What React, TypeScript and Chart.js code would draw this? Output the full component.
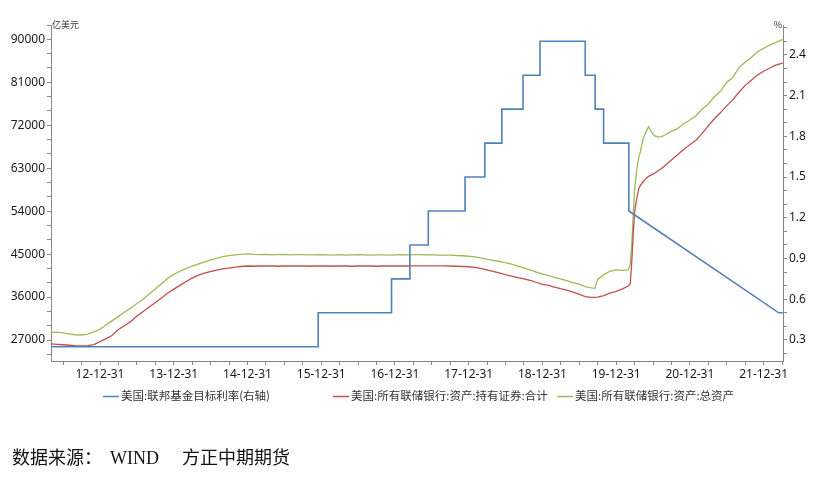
import React, { useEffect, useRef } from 'react';
import { Chart, registerables } from 'chart.js';

Chart.register(...registerables);

// ---------- data ----------
const assetDates = [
  '2012-05-01','2012-06-01','2012-07-01','2012-08-01','2012-09-01','2012-10-01','2012-11-01','2012-12-01',
  '2013-01-01','2013-02-01','2013-03-01','2013-04-01','2013-05-01','2013-06-01','2013-07-01','2013-08-01','2013-09-01','2013-10-01','2013-11-01','2013-12-01',
  '2014-01-01','2014-02-01','2014-03-01','2014-04-01','2014-05-01','2014-06-01','2014-07-01','2014-08-01','2014-09-01','2014-10-01','2014-11-01','2014-12-01',
  '2015-01-01','2015-02-01','2015-03-01','2015-04-01','2015-05-01','2015-06-01','2015-07-01','2015-08-01','2015-09-01','2015-10-01','2015-11-01','2015-12-01',
  '2016-01-01','2016-02-01','2016-03-01','2016-04-01','2016-05-01','2016-06-01','2016-07-01','2016-08-01','2016-09-01','2016-10-01','2016-11-01','2016-12-01',
  '2017-01-01','2017-02-01','2017-03-01','2017-04-01','2017-05-01','2017-06-01','2017-07-01','2017-08-01','2017-09-01','2017-10-01','2017-11-01','2017-12-01',
  '2018-01-01','2018-02-01','2018-03-01','2018-04-01','2018-05-01','2018-06-01','2018-07-01','2018-08-01','2018-09-01','2018-10-01','2018-11-01','2018-12-01',
  '2019-01-01','2019-02-01','2019-03-01','2019-04-01','2019-05-01','2019-06-01','2019-07-01','2019-08-01','2019-09-01','2019-09-18','2019-10-01','2019-11-01','2019-12-01',
  '2020-01-01','2020-02-01','2020-03-01','2020-03-11','2020-03-18','2020-03-25','2020-04-01','2020-04-08','2020-04-15','2020-04-22','2020-05-01','2020-05-13','2020-05-27',
  '2020-06-10','2020-06-24','2020-07-08','2020-07-29','2020-08-15','2020-09-01','2020-10-01','2020-11-01','2020-12-01',
  '2021-01-01','2021-02-01','2021-03-01','2021-04-01','2021-05-01','2021-06-01','2021-07-01','2021-08-01','2021-09-01','2021-10-01','2021-11-01','2021-12-01',
  '2022-01-01','2022-02-01','2022-03-01','2022-04-01','2022-04-06',
];

// 美国:所有联储银行:资产:总资产 (亿美元)
const totalAssets = [
  28600,28650,28500,28300,28100,28050,28250,28700,
  29250,30200,31000,31900,32800,33650,34600,35500,36650,37700,38800,39900,
  40750,41400,41950,42500,42900,43300,43750,44100,44450,44700,44850,44950,
  45050,44950,44900,44950,44850,44900,44950,44850,44900,44900,44850,44850,
  44900,44850,44800,44900,44800,44850,44900,44850,44800,44850,44850,44800,
  44850,44900,44850,44900,44900,44850,44850,44800,44800,44800,44700,44650,
  44550,44400,44200,43950,43700,43450,43200,42900,42500,42100,41700,41200,
  40850,40500,40100,39800,39450,39000,38700,38200,37900,37850,39700,40700,41400,
  41700,41600,41700,42900,46700,52500,58300,61000,63500,65200,66600,69000,70500,
  71700,70600,69800,69500,69600,70000,70700,71300,72300,
  73100,74000,75300,76400,77900,79100,80900,82000,84100,85200,86200,87400,
  88100,88800,89300,89900,89950,
];

// 美国:所有联储银行:资产:持有证券:合计 (亿美元)
const securitiesHeld = [
  26200,26100,26000,25900,25800,25750,25800,26050,
  26650,27300,27950,29150,30000,30850,31950,32900,33900,34800,35800,36800,
  37650,38450,39200,39950,40550,41000,41350,41650,41900,42050,42250,42400,
  42500,42450,42500,42550,42500,42450,42500,42550,42500,42500,42450,42500,
  42550,42500,42450,42500,42500,42450,42500,42550,42500,42450,42500,42500,
  42550,42500,42500,42550,42550,42550,42550,42550,42550,42500,42450,42400,
  42350,42200,42000,41700,41400,41050,40700,40400,40050,39800,39500,39100,
  38650,38450,38100,37750,37450,37050,36600,36100,35950,35950,36000,36300,36800,
  37200,37700,38300,38800,43000,48500,53500,55600,57200,58700,59400,60100,60800,
  61300,61600,61900,62500,63000,63600,64700,65800,66900,
  67900,68900,70200,71800,73300,74600,76000,77300,78900,80300,81400,82500,
  83300,84000,84600,84950,85000,
];

// 美国:联邦基金目标利率 (%), change dates
const rateDates = [
  '2012-05-01','2015-12-17','2016-12-15','2017-03-16','2017-06-15','2017-12-14','2018-03-22',
  '2018-06-14','2018-09-27','2018-12-20','2019-08-01','2019-09-19','2019-10-31','2020-03-04',
  '2022-03-17','2022-04-06',
];
const rateValues = [0.25,0.5,0.75,1.0,1.25,1.5,1.75,2.0,2.25,2.5,2.25,2.0,1.75,1.25,0.5,0.5];
const rateStepUntil = '2020-03-04'; // stepped up to this date, then joined directly

const leftTickValues = [27000,36000,45000,54000,63000,72000,81000,90000];
const rightTickValues = [0.3,0.6,0.9,1.2,1.5,1.8,2.1,2.4];
const xLabelYears = [2013,2014,2015,2016,2017,2018,2019,2020,2021,2022];

const seriesNames = [
  '美国:联邦基金目标利率(右轴)',
  '美国:所有联储银行:资产:持有证券:合计',
  '美国:所有联储银行:资产:总资产',
];
const colors = ['#4F81BD', '#C0504D', '#9BBB59'];

// ---------- helpers ----------
const toYear = (s: string) => {
  const [y, m, d] = s.split('-').map(Number);
  const start = Date.UTC(y, 0, 1);
  const end = Date.UTC(y + 1, 0, 1);
  return y + (Date.UTC(y, m - 1, d) - start) / (end - start);
};

const buildRatePoints = () => {
  const pts: { x: number; y: number }[] = [];
  const stepEnd = toYear(rateStepUntil);
  rateDates.forEach((d, i) => {
    const x = toYear(d);
    if (i > 0 && x <= stepEnd + 1e-9 && rateValues[i] !== rateValues[i - 1]) {
      pts.push({ x, y: rateValues[i - 1] });
    }
    pts.push({ x, y: rateValues[i] });
  });
  return pts;
};

const X_MIN = 2012.335;
const X_MAX = 2022.263;
const AXIS_COLOR = '#868686';
const TICK_FONT = { family: '"Noto Sans", "Liberation Sans", sans-serif', size: 12 };

export default function App() {
  const ref = useRef<HTMLCanvasElement | null>(null);

  useEffect(() => {
    if (!ref.current) return;
    const totalPts = assetDates.map((d, i) => ({ x: toYear(d), y: totalAssets[i] }));
    const secPts = assetDates.map((d, i) => ({ x: toYear(d), y: securitiesHeld[i] }));
    const ratePts = buildRatePoints();

    const overlay = {
      id: 'overlay',
      afterDraw(chart: any) {
        const ctx = chart.ctx as CanvasRenderingContext2D;
        const { left, right, top } = chart.chartArea;
        ctx.save();
        // axis unit titles
        ctx.fillStyle = '#333';
        ctx.font = '9px "Noto Sans CJK SC", sans-serif';
        ctx.textBaseline = 'middle';
        ctx.textAlign = 'left';
        ctx.fillText('亿美元', left + 1, top);
        ctx.textAlign = 'right';
        ctx.fillText('%', right - 1, top);

        // legend
        const legendY = 396;
        const items = [
          { x: 103, tx: 121 },
          { x: 333, tx: 351 },
          { x: 557, tx: 575 },
        ];
        ctx.font = '11.5px "Noto Sans CJK SC", sans-serif';
        ctx.textAlign = 'left';
        ctx.textBaseline = 'middle';
        items.forEach((it, i) => {
          ctx.strokeStyle = colors[i];
          ctx.lineWidth = 1.5;
          ctx.beginPath();
          ctx.moveTo(it.x, legendY + 0.5);
          ctx.lineTo(it.x + 16, legendY + 0.5);
          ctx.stroke();
          ctx.fillStyle = '#333';
          ctx.fillText(seriesNames[i], it.tx, legendY);
        });

        // source note
        ctx.fillStyle = '#111';
        ctx.textBaseline = 'middle';
        ctx.font = '18px "Liberation Serif", "Noto Sans CJK SC", serif';
        ctx.fillText('数据来源：', 12, 459);
        ctx.fillText('WIND', 110, 459);
        ctx.fillText('方正中期期货', 182, 459);
        ctx.restore();
      },
    };

    const chart = new Chart(ref.current, {
      type: 'line',
      data: {
        datasets: [
          {
            label: seriesNames[0],
            data: ratePts,
            borderColor: colors[0],
            borderWidth: 1.6,
            pointRadius: 0,
            yAxisID: 'y1',
            tension: 0,
          },
          {
            label: seriesNames[1],
            data: secPts,
            borderColor: colors[1],
            borderWidth: 1.3,
            pointRadius: 0,
            yAxisID: 'y',
            tension: 0,
          },
          {
            label: seriesNames[2],
            data: totalPts,
            borderColor: colors[2],
            borderWidth: 1.3,
            pointRadius: 0,
            yAxisID: 'y',
            tension: 0,
          },
        ],
      },
      options: {
        animation: false,
        responsive: false,
        devicePixelRatio: 1,
        parsing: false as any,
        layout: { padding: { top: 25, left: 0, right: 0, bottom: 0 } },
        plugins: { legend: { display: false }, tooltip: { enabled: false } },
        scales: {
          x: {
            type: 'linear',
            min: X_MIN,
            max: X_MAX,
            afterBuildTicks: (s: any) => {
              const t: any[] = [];
              for (let q = Math.ceil(X_MIN * 4); q <= Math.floor(X_MAX * 4); q++) t.push({ value: q / 4 });
              s.ticks = t;
            },
            afterFit: (s: any) => { s.height = 117; },
            ticks: {
              autoSkip: false,
              maxRotation: 0,
              minRotation: 0,
              padding: 2,
              color: '#1a1a1a',
              font: TICK_FONT,
              callback: (v: any) => {
                const yr = Math.round(Number(v));
                if (Math.abs(Number(v) - yr) < 1e-6 && xLabelYears.includes(yr)) {
                  return `${String(yr - 1).slice(2)}-12-31`;
                }
                return '';
              },
            },
            grid: { display: true, drawOnChartArea: false, drawTicks: true, tickLength: 4, color: AXIS_COLOR },
            border: { display: true, color: AXIS_COLOR },
          },
          y: {
            type: 'linear',
            position: 'left',
            min: 22600,
            max: 93000,
            afterBuildTicks: (s: any) => {
              const t: any[] = [];
              for (let v = 24000; v <= 93000; v += 3000) t.push({ value: v });
              s.ticks = t;
            },
            afterFit: (s: any) => { s.width = 51; },
            ticks: {
              autoSkip: false,
              padding: 2,
              color: '#1a1a1a',
              font: TICK_FONT,
              callback: (v: any) => (leftTickValues.includes(Number(v)) ? String(v) : ''),
            },
            grid: { display: true, drawOnChartArea: false, drawTicks: true, tickLength: 4, color: AXIS_COLOR },
            border: { display: true, color: AXIS_COLOR },
          },
          y1: {
            type: 'linear',
            position: 'right',
            min: 0.145,
            max: 2.62,
            afterBuildTicks: (s: any) => {
              const t: any[] = [];
              for (let k = 2; k <= 26; k++) t.push({ value: k / 10 });
              s.ticks = t;
            },
            afterFit: (s: any) => { s.width = 33; },
            ticks: {
              autoSkip: false,
              padding: 2,
              color: '#1a1a1a',
              font: TICK_FONT,
              callback: (v: any) => {
                const n = Number(v);
                return rightTickValues.some((r) => Math.abs(r - n) < 1e-6) ? n.toFixed(1) : '';
              },
            },
            grid: { display: true, drawOnChartArea: false, drawTicks: true, tickLength: 4, color: AXIS_COLOR },
            border: { display: true, color: AXIS_COLOR },
          },
        },
      },
      plugins: [overlay],
    } as any);

    return () => chart.destroy();
  }, []);

  return (
    <div style={{ position: 'absolute', left: 0, top: 0, width: 816, height: 478, background: '#fff' }}>
      <canvas ref={ref} width={816} height={478} style={{ display: 'block' }} />
    </div>
  );
}
